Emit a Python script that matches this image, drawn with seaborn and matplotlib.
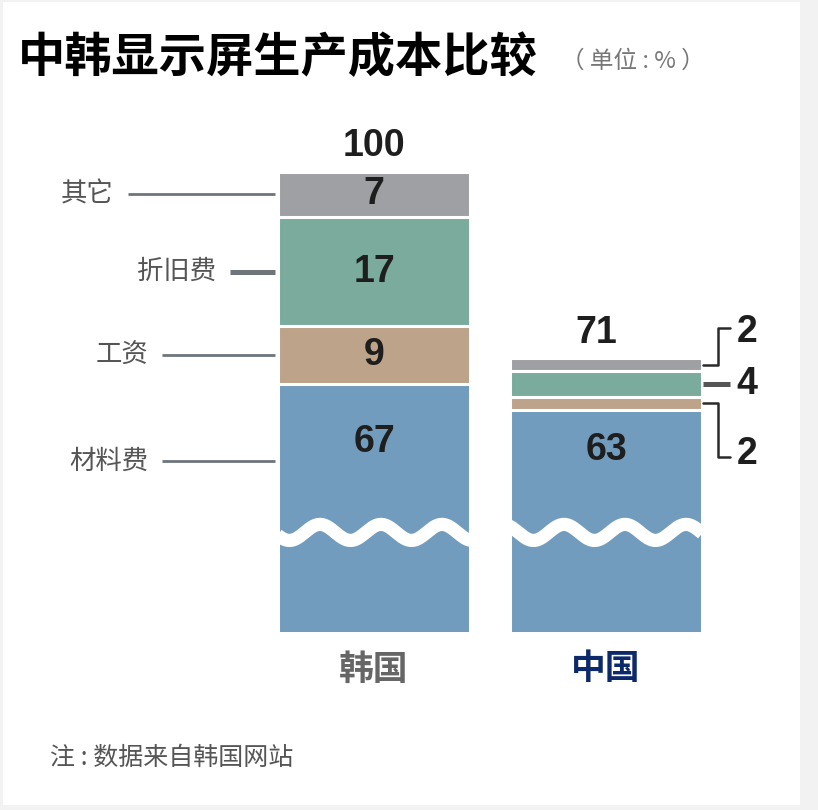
import numpy as np
import pandas as pd
import matplotlib
matplotlib.use("Agg")
import matplotlib.pyplot as plt
from matplotlib.patches import Rectangle
import seaborn as sns


COUNTRIES = ["韩国", "中国"]
SEGMENTS = ["材料费", "工资", "折旧费", "其它"]
KOREA = [67, 9, 17, 7]
CHINA = [63, 2, 4, 2]
TOTALS = [100, 71]

COLORS = ["#729cbd", "#bca38a", "#7aab9c", "#9fa0a3"]
TICK_COLORS = ["#666666", "#0c2a6b"]
NUM_FONT = ["Liberation Sans", "DejaVu Sans"]
CJK_FONT = ["Noto Sans CJK SC", "DejaVu Sans"]

W, H = 818, 810
Y_CUT = 28.4      # broken axis, everything below is hidden
BAR_W = 0.83
PX_PER_X = 232    # pixels between the two bar centres
X0_PX = 374       # pixel of first bar centre


def px_x(px):
    return (px - X0_PX) / PX_PER_X


sns.set_theme(style="white")
plt.rcParams["font.family"] = CJK_FONT

fig = plt.figure(figsize=(W / 100, H / 100), dpi=100)
fig.patch.set_facecolor("#f2f2f2")
fig.add_artist(Rectangle((3 / W, 5 / H), 797 / W, 803 / H, transform=fig.transFigure,
                         facecolor="white", edgecolor="none", zorder=-1))
ax = fig.add_axes([0, (H - 632) / H, 1, 460 / H])
ax.set_facecolor("none")

# long table with cumulative tops for stacking
df = pd.DataFrame({
    "country": np.repeat(COUNTRIES, len(SEGMENTS)),
    "segment": SEGMENTS * len(COUNTRIES),
    "value": KOREA + CHINA,
})
df["top"] = df.groupby("country", sort=False)["value"].cumsum()
df["center"] = df["top"] - df["value"] / 2

# draw from the top segment down, each layer covers the one before
for seg, color in reversed(list(zip(SEGMENTS, COLORS))):
    sub = df[df["segment"] == seg]
    sns.barplot(sub, x="country", y="top", order=COUNTRIES, color=color,
                saturation=1, width=BAR_W, errorbar=None,
                edgecolor="white", linewidth=2.2, ax=ax)

ax.set_ylim(Y_CUT, 100)
ax.set_xlim(px_x(0), px_x(W))
ax.set_yticks([])
ax.set_xlabel("")
ax.set_ylabel("")
sns.despine(ax=ax, left=True, bottom=True)
ax.tick_params(axis="x", length=0, pad=14)
for lab, c in zip(ax.get_xticklabels(), TICK_COLORS):
    lab.set_color(c)
    lab.set_fontsize(25)
    lab.set_fontweight("bold")

# wavy break
xs = np.linspace(-BAR_W / 2, 1 + BAR_W / 2, 800)
period = 61 / PX_PER_X
ax.plot(xs, 43.9 + 1.25 * np.cos(2 * np.pi * (xs - px_x(320)) / period),
        color="white", lw=9.5, solid_capstyle="butt", zorder=5)

num_kw = dict(family=NUM_FONT, fontweight="bold", fontsize=27, color="#1e1e1e",
              ha="center", va="center", clip_on=False, zorder=6)

# totals
for i, total in enumerate(TOTALS):
    ax.text(i - 0.04 * i, total + 4, str(total), **num_kw)

# korea values and leaders
kor = df[df["country"] == COUNTRIES[0]].set_index("segment")
leader_start = {"其它": 128, "折旧费": 230, "工资": 162, "材料费": 162}
for seg in SEGMENTS:
    val = kor.loc[seg, "value"]
    if seg == "材料费":
        ty, ly = 58.0, 55.0
    else:
        ty = ly = kor.loc[seg, "center"]
    ax.text(0, ty, str(val), **num_kw)
    lw = 3.6 if seg == "折旧费" else 2.0
    ax.plot([px_x(leader_start[seg]), -BAR_W / 2 - 0.012], [ly, ly],
            color="#6e757b", lw=lw, solid_capstyle="butt", clip_on=False)
    ax.text(px_x(leader_start[seg] - 14), ly, seg, fontsize=19, color="#555555",
            ha="right", va="center", clip_on=False)

# china values with brackets
chn = df[df["country"] == COUNTRIES[1]].set_index("segment")
ax.text(1, 56.8, str(chn.loc["材料费", "value"]), **num_kw)
x_a, x_b, x_c = px_x(703), px_x(718), px_x(730)
lab_x = px_x(747)

y_o = chn.loc["其它", "center"]
ax.plot([x_a, x_b, x_b, x_c], [y_o, y_o, y_o + 5.7, y_o + 5.7],
        color="#2a2a2a", lw=1.8, clip_on=False)
ax.text(lab_x, y_o + 5.1, str(chn.loc["其它", "value"]), **num_kw)

y_d = chn.loc["折旧费", "center"]
ax.plot([x_a, x_c], [y_d, y_d], color="#555555", lw=3.6,
        solid_capstyle="butt", clip_on=False)
ax.text(lab_x, y_d, str(chn.loc["折旧费", "value"]), **num_kw)

y_w = chn.loc["工资", "center"]
ax.plot([x_a, x_b, x_b, x_c], [y_w, y_w, y_w - 8.4, y_w - 8.4],
        color="#2a2a2a", lw=1.8, clip_on=False)
ax.text(lab_x, y_w - 7.9, str(chn.loc["工资", "value"]), **num_kw)

# title, unit, note
fig.text(18 / W, 1 - 58 / H, "中韩显示屏生产成本比较", fontsize=34, fontweight="heavy",
         color="black", ha="left", va="center")
fig.text(561 / W, 1 - 61 / H, "（ 单位 : % ）", fontsize=17, color="#777777",
         ha="left", va="center")
fig.text(50 / W, 1 - 758 / H, "注 : 数据来自韩国网站", fontsize=18, color="#555555",
         ha="left", va="center")

fig.savefig("out.png", dpi=100)
